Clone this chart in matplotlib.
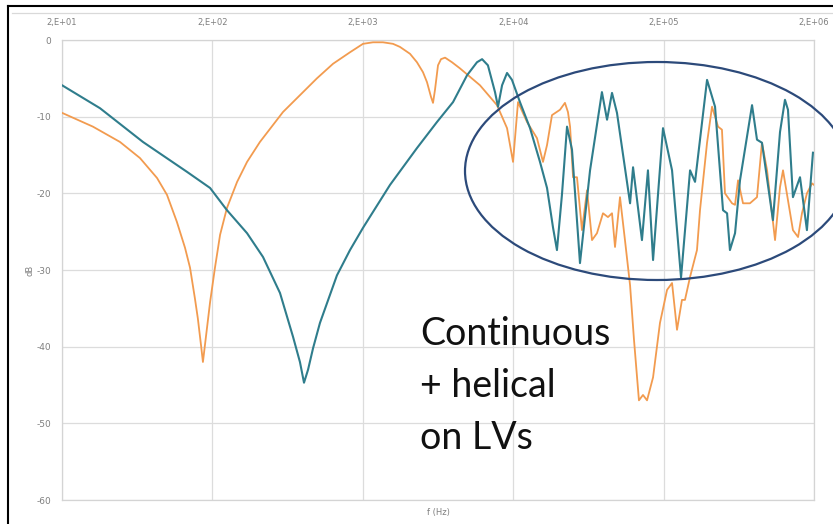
import matplotlib
matplotlib.use('Agg')
from matplotlib import pyplot as plt
from matplotlib.patches import Ellipse
from matplotlib.lines import Line2D


# frequency response, two winding configurations
orange_f = [20, 32.1, 48.6, 66.0, 85.7, 99.8, 116, 131.5, 142, 153,
            160, 168, 173, 184, 193, 208, 225, 250, 292, 340,
            414, 589, 764, 991, 1268, 1644, 2006, 2338, 2723, 3176,
            3532, 4120, 4582, 5026, 5344, 5678, 5860, 6040, 6325, 6622,
            7047, 7834, 8852, 12020, 15610, 18200, 19950, 21530,
            24720, 28780, 31560, 33570, 36220, 40940, 44170, 46250, 47760, 50000,
            53100, 57320, 61940, 66840, 72120, 79080, 85320, 90780, 95060, 102600,
            110700, 119700, 127100, 137100, 145900, 155200, 170200, 189200, 210800, 227600,
            245600, 264900, 277400, 299900, 333400, 349200, 389000, 419800, 460300, 488700,
            511800, 570200, 597000, 625200, 674600, 750000, 835600, 901600, 975000, 1101600,
            1188600, 1244600, 1342800, 1448800, 1566800, 1663600, 1794800, 1941000, 2000000]
orange_db = [-9.5, -11.3, -13.3, -15.4, -18.0, -20.2, -23.7, -27.1, -29.7, -33.7,
             -36.3, -39.8, -42.0, -37.6, -34.2, -29.7, -25.4, -21.9, -18.5, -15.9,
             -13.3, -9.4, -7.2, -5.0, -3.1, -1.6, -0.5, -0.3, -0.3, -0.5,
             -0.9, -1.8, -2.9, -4.2, -5.5, -7.4, -8.2, -6.5, -3.3, -2.5,
             -2.3, -2.9, -3.7, -5.9, -8.5, -11.5, -15.9, -8.1,
             -10.7, -12.8, -15.9, -13.7, -9.8, -9.1, -8.2, -9.4, -11.3, -17.9,
             -17.9, -24.8, -19.6, -26.1, -25.2, -22.6, -23.1, -22.6, -27.0, -20.5,
             -26.1, -32.0, -39.1, -47.0, -46.3, -47.0, -44.0, -36.9, -32.6, -31.7,
             -37.8, -33.9, -33.9, -30.9, -27.4, -22.2, -13.4, -8.7, -11.3, -11.7,
             -20.0, -21.3, -21.5, -18.3, -21.3, -21.3, -20.5, -13.4, -17.0, -26.1,
             -19.2, -17.0, -20.9, -24.8, -25.7, -22.6, -20.0, -18.7, -18.9]

teal_f = [20, 35.8, 69.1, 135.6, 193, 250, 340, 434, 563, 687,
          764, 813, 865, 934, 1038, 1346, 1644, 2006, 3034, 4582,
          6224, 7962, 9866, 11490, 12420, 13580, 15140, 15850, 16870, 18200,
          19630, 22180, 25880, 30140, 33570, 36820, 39080, 42180, 45600, 49200,
          55600, 64860, 77800, 84140, 90780, 97960, 119700, 125300, 143600, 157400,
          170200, 198200, 227600, 261200, 299900, 323600, 389000, 439600, 496600, 528400,
          552200, 597000, 644200, 774600, 835600, 901600, 1066600, 1188600, 1282400, 1342800,
          1448800, 1614400, 1794800, 1968000]
teal_db = [-5.9, -8.9, -13.3, -17.2, -19.3, -22.2, -25.2, -28.3, -33.0, -38.7,
           -42.0, -44.7, -43.0, -40.2, -36.9, -30.7, -27.4, -24.5, -18.9, -14.1,
           -10.7, -8.1, -4.6, -2.9, -2.5, -3.3, -6.8, -8.7, -5.9, -4.3,
           -5.2, -8.1, -11.5, -15.9, -19.3, -24.5, -27.4, -20.2, -11.3, -14.3,
           -29.1, -17.0, -6.8, -10.4, -6.9, -9.5, -21.3, -16.6, -26.1, -17.0,
           -28.7, -11.5, -17.0, -31.0, -17.0, -18.5, -5.2, -8.7, -22.2, -22.6,
           -27.4, -25.2, -18.3, -8.5, -13.0, -13.4, -23.5, -12.0, -7.8, -9.1,
           -20.5, -17.9, -24.8, -14.7]

xticks = [2e1, 2e2, 2e3, 2e4, 2e5, 2e6]
xtick_labels = ['2,E+01', '2,E+02', '2,E+03', '2,E+04', '2,E+05', '2,E+06']
yticks = [0, -10, -20, -30, -40, -50, -60]

plt.rcParams['axes.unicode_minus'] = False

fig = plt.figure(figsize=(8.33, 5.24), dpi=100)
ax = fig.add_axes([62 / 833, 24 / 524, 752 / 833, 460 / 524])

ax.plot(orange_f, orange_db, color='#f29b4f', lw=1.3, zorder=3, solid_joinstyle='round')
ax.plot(teal_f, teal_db, color='#2f7d8c', lw=1.5, zorder=4, solid_joinstyle='round')

ax.set_xscale('log')
ax.set_xlim(20, 2e6)
ax.set_ylim(-60, 0)
ax.set_xticks(xticks)
ax.set_xticklabels(xtick_labels)
ax.minorticks_off()
ax.set_yticks(yticks)
ax.xaxis.tick_top()
ax.tick_params(axis='x', length=0, pad=9, labelsize=6, labelcolor='#7f7f7f')
ax.tick_params(axis='y', length=0, pad=8, labelsize=6.5, labelcolor='#7f7f7f')
ax.grid(True, color='#dcdcdc', lw=0.9)
for s in ax.spines.values():
    s.set_color('#d4d4d4')
    s.set_linewidth(0.9)

fig.text(30 / 833, 1 - 270 / 524, 'dB', rotation=90, ha='center', va='center',
         fontsize=6, color='#7f7f7f')
fig.text(438 / 833, 1 - 512 / 524, 'f (Hz)', ha='center', va='center',
         fontsize=6, color='#7f7f7f')

# highlight of the high-frequency region
ell = Ellipse((657 / 833, 1 - 171 / 524), 384 / 833, 218 / 524,
              transform=fig.transFigure, fill=False, ec='#2c4a7a', lw=1.6, zorder=10)
fig.add_artist(ell)

fig.text(420 / 833, 1 - 316 / 524, 'Continuous\n+ helical\non LVs', ha='left', va='top',
         fontsize=27, family='Lato', color='#111111', linespacing=1.55)

# outer frame
fig.add_artist(Line2D([8 / 833, 1], [1 - 6 / 524, 1 - 6 / 524], transform=fig.transFigure,
                      color='black', lw=1.5))
fig.add_artist(Line2D([8 / 833, 8 / 833], [0, 1 - 6 / 524], transform=fig.transFigure,
                      color='black', lw=1.5))
fig.add_artist(Line2D([12 / 833, 1], [1 - 13 / 524, 1 - 13 / 524], transform=fig.transFigure,
                      color='#d9d9d9', lw=0.9))

fig.savefig('out.png', dpi=100)
